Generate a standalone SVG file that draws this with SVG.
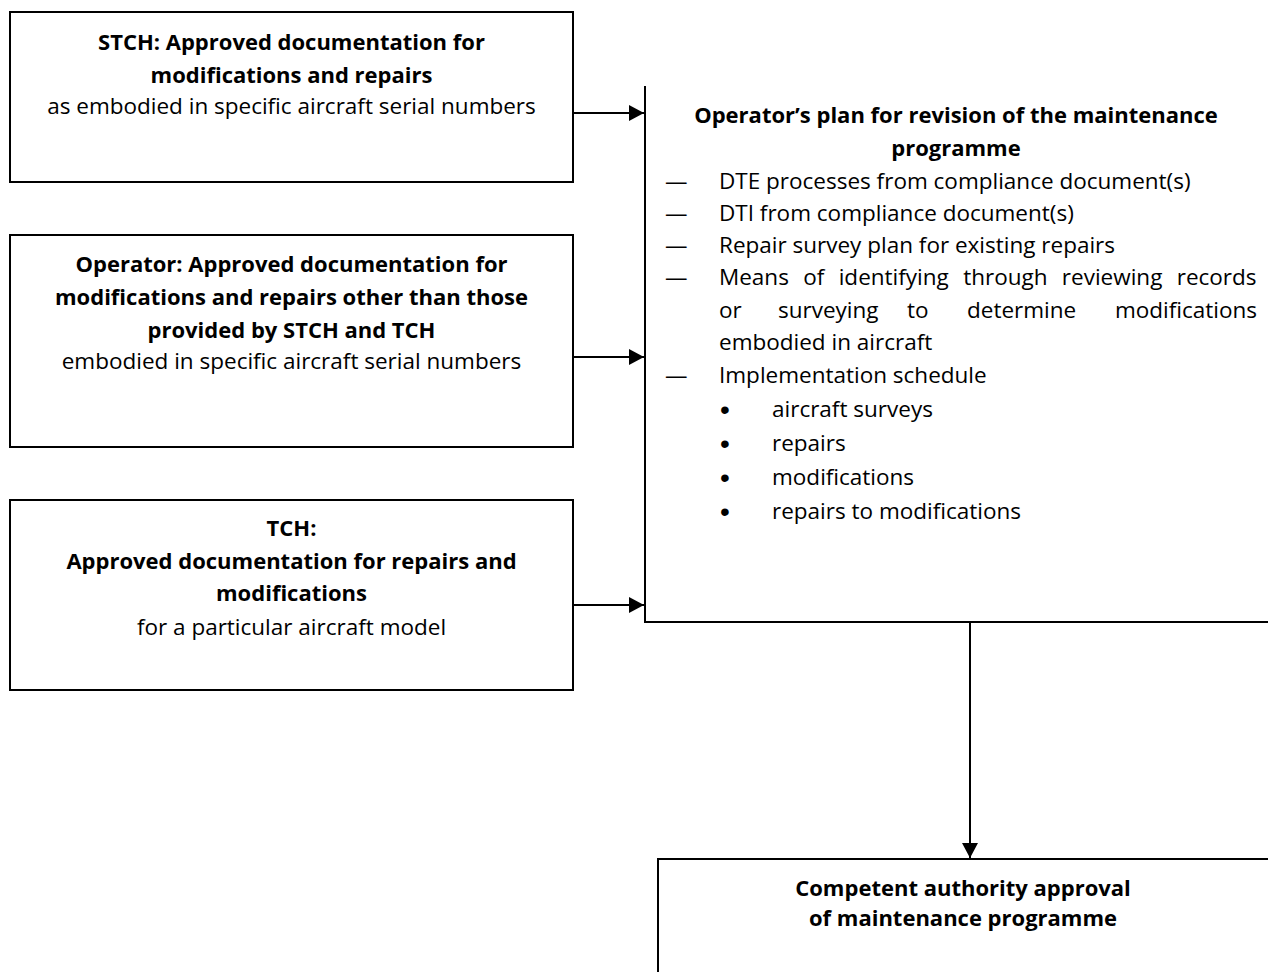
<svg xmlns="http://www.w3.org/2000/svg" width="1268" height="972" viewBox="0 0 1268 972">
<style>
text{font-family:"Open Sans","Liberation Sans",sans-serif;font-size:22.5px;fill:#000}
.b{font-weight:bold;font-size:22px}
.c{text-anchor:middle}
.bu{font-family:"Liberation Sans",sans-serif;font-size:28px}
.box{fill:#fff;stroke:#000;stroke-width:2}
.edge{fill:none;stroke:#000;stroke-width:2}
.conn{fill:none;stroke:#000;stroke-width:2}
</style>
<defs>
<marker id="ah" markerUnits="userSpaceOnUse" markerWidth="18" markerHeight="18" refX="15" refY="8" orient="auto">
<path d="M0,0 L15,8 L0,16 Z" fill="#000"/>
</marker>
</defs>
<rect width="1268" height="972" fill="#fff"/>
<g id="connectors">
<line class="conn" x1="573" y1="113" x2="644" y2="113" marker-end="url(#ah)"/>
<line class="conn" x1="573" y1="357" x2="644" y2="357" marker-end="url(#ah)"/>
<line class="conn" x1="573" y1="605" x2="644" y2="605" marker-end="url(#ah)"/>
<line class="conn" x1="970" y1="622" x2="970" y2="858" marker-end="url(#ah)"/>
</g>
<g id="stch">
<rect class="box" x="10" y="12" width="563" height="170"/>
<text class="b c" x="291.5" y="50">STCH: Approved documentation for</text>
<text class="b c" x="291.5" y="83">modifications and repairs</text>
<text class="c" x="291.5" y="114">as embodied in specific aircraft serial numbers</text>
</g>
<g id="operator">
<rect class="box" x="10" y="235" width="563" height="212"/>
<text class="b c" x="291.5" y="272">Operator: Approved documentation for</text>
<text class="b c" x="291.5" y="305">modifications and repairs other than those</text>
<text class="b c" x="291.5" y="338">provided by STCH and TCH</text>
<text class="c" x="291.5" y="369">embodied in specific aircraft serial numbers</text>
</g>
<g id="tch">
<rect class="box" x="10" y="500" width="563" height="190"/>
<text class="b c" x="291.5" y="536">TCH:</text>
<text class="b c" x="291.5" y="569">Approved documentation for repairs and</text>
<text class="b c" x="291.5" y="601">modifications</text>
<text class="c" x="291.5" y="635">for a particular aircraft model</text>
</g>
<g id="plan">
<path class="edge" d="M645,86 L645,622 L1270,622"/>
<text class="b c" x="956" y="123">Operator’s plan for revision of the maintenance</text>
<text class="b c" x="956" y="156">programme</text>
<text x="665" y="189">—</text><text x="719" y="189">DTE processes from compliance document(s)</text>
<text x="665" y="221">—</text><text x="719" y="221">DTI from compliance document(s)</text>
<text x="665" y="253">—</text><text x="719" y="253">Repair survey plan for existing repairs</text>
<text x="665" y="285">—</text><text x="719" y="285" word-spacing="8.5">Means of identifying through reviewing records</text>
<text x="719" y="318">or</text><text x="778" y="318">surveying</text><text x="907" y="318">to</text><text x="967" y="318">determine</text><text x="1257" y="318" text-anchor="end">modifications</text>
<text x="719" y="350">embodied in aircraft</text>
<text x="665" y="383">—</text><text x="719" y="383">Implementation schedule</text>
<text class="bu" x="720" y="419">•</text><text x="772" y="417">aircraft surveys</text>
<text class="bu" x="720" y="453">•</text><text x="772" y="451">repairs</text>
<text class="bu" x="720" y="487">•</text><text x="772" y="485">modifications</text>
<text class="bu" x="720" y="521">•</text><text x="772" y="519">repairs to modifications</text>
</g>
<g id="approval">
<path class="edge" d="M658,975 L658,859 L1270,859"/>
<text class="b c" x="963" y="896">Competent authority approval</text>
<text class="b c" x="963" y="926">of maintenance programme</text>
</g>
</svg>
